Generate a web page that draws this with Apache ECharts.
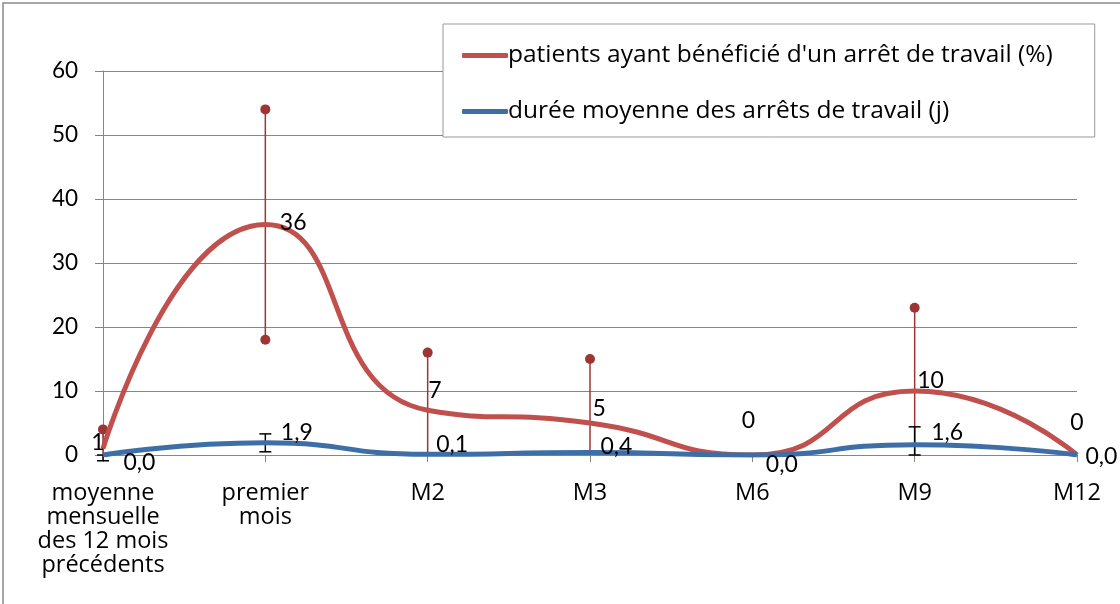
<!DOCTYPE html>
<html>
<head>
<meta charset="utf-8">
<script src="https://cdn.jsdelivr.net/npm/echarts@6/dist/echarts.min.js"></script>
<style>
  html, body { margin: 0; padding: 0; background: #fff; }
  #chart { width: 1120px; height: 604px; }
</style>
</head>
<body>
<div id="chart"></div>
<script>
// données
const categories = ['moyenne\nmensuelle\ndes 12 mois\nprécédents', 'premier\nmois', 'M2', 'M3', 'M6', 'M9', 'M12'];
const patientsPct = [1, 36, 7, 5, 0, 10, 0];
const dureeMoyenne = [0.0, 1.9, 0.1, 0.4, 0.0, 1.6, 0.0];
// barres d'erreur (bas / haut), null = pas de barre
const patientsLow = [0, 18, 0, 0, null, 0, null];
const patientsHigh = [4, 54, 16, 15, null, 23, null];
const dureeLow = [-0.9, 0.5, null, 0.4, null, 0, null];
const dureeHigh = [0, 3.3, null, 0.4, null, 4.4, null];
const yTicks = [0, 10, 20, 30, 40, 50, 60];

const nomPatients = "patients ayant bénéficié d'un arrêt de travail (%)";
const nomDuree = 'durée moyenne des arrêts de travail (j)';

const FONT = 'Lato';
const WORD_FONT = 'Open Sans';
const RED = '#C0504D';
const BLUE = '#3E6EA6';
const ERR_RED = '#9E3533';

const fmt = v => v.toFixed(1).replace('.', ',');

// positions des étiquettes, à la main comme dans Excel
const redLabelPos = ['left', 'right', 'right', 'right', 'top', 'right', 'top'];
const redLabelOff = [[6, -6], [10, -2], [-4, -20], [-2, -14], [-4, -18], [-2, -10], [0, -16]];
const blueLabelOff = [[12, 8], [7, -10], [0, -10], [2, -6], [5, 10], [8, -12], [0, 2]];

const chart = echarts.init(document.getElementById('chart'), null, { renderer: 'canvas' });

function errBars(lows, highs, color, withDots) {
  return {
    type: 'custom',
    silent: true,
    clip: false,
    z: 1,
    data: lows.map((l, i) => [i, l, highs[i]]).filter(d => d[1] !== null),
    renderItem: (params, api) => {
      const x = api.value(0);
      const lo = api.coord([x, api.value(1)]);
      const hi = api.coord([x, api.value(2)]);
      const children = [{
        type: 'line',
        shape: { x1: lo[0], y1: lo[1], x2: hi[0], y2: hi[1] },
        style: { stroke: color, lineWidth: 1.5 }
      }];
      if (withDots) {
        children.push({ type: 'circle', shape: { cx: hi[0], cy: hi[1], r: 5 }, style: { fill: color } });
        if (api.value(1) > 0) {
          children.push({ type: 'circle', shape: { cx: lo[0], cy: lo[1], r: 5 }, style: { fill: color } });
        }
      } else {
        [lo, hi].forEach(p => children.push({
          type: 'line',
          shape: { x1: p[0] - 6, y1: p[1], x2: p[0] + 6, y2: p[1] },
          style: { stroke: color, lineWidth: 1.5 }
        }));
      }
      return { type: 'group', children };
    }
  };
}

const option = {
  backgroundColor: '#fff',
  animation: false,
  textStyle: { fontFamily: FONT, color: '#000' },
  graphic: [{
    type: 'rect',
    shape: { x: 3, y: 3, width: 1200, height: 700 },
    style: { fill: 'none', stroke: '#898989', lineWidth: 1.5 },
    z: -10
  }],
  grid: { left: 103, right: 43, top: 71, bottom: 149, containLabel: false },
  legend: {
    orient: 'vertical',
    left: 443,
    top: 24,
    padding: [19, 42, 13, 19],
    itemGap: 31,
    itemWidth: 46,
    itemHeight: 5,
    backgroundColor: '#fff',
    borderColor: '#999',
    borderWidth: 1,
    borderRadius: 0,
    textStyle: { fontFamily: WORD_FONT, fontSize: 24.5, color: '#000', lineHeight: 24, padding: [0, 0, 0, -5] },
    data: [
      { name: nomPatients, icon: 'roundRect' },
      { name: nomDuree, icon: 'roundRect' }
    ]
  },
  xAxis: {
    type: 'category',
    data: categories,
    boundaryGap: false,
    axisLine: { lineStyle: { color: '#868686', width: 1 } },
    axisTick: { show: true, length: 7, lineStyle: { color: '#868686' } },
    axisLabel: { fontFamily: WORD_FONT, fontSize: 23.5, color: '#000', lineHeight: 24, margin: 26, interval: 0 },
    z: 0
  },
  yAxis: {
    type: 'value',
    min: 0,
    max: 60,
    interval: 10,
    axisLine: { show: true, lineStyle: { color: '#868686', width: 1 } },
    axisTick: { show: true, length: 8, lineStyle: { color: '#868686' } },
    splitLine: { lineStyle: { color: '#868686', width: 1 } },
    axisLabel: {
      fontFamily: FONT, fontSize: 22.5, color: '#000', margin: 25,
      formatter: v => yTicks.includes(v) ? String(v) : ''
    }
  },
  series: [
    errBars(patientsLow, patientsHigh, ERR_RED, true),
    errBars(dureeLow, dureeHigh, '#000', false),
    {
      name: nomPatients,
      type: 'line',
      smooth: 0.55,
      z: 3,
      data: patientsPct.map((v, i) => ({
        value: v,
        label: { position: redLabelPos[i], offset: redLabelOff[i] }
      })),
      symbol: 'circle',
      symbolSize: 1,
      showSymbol: true,
      lineStyle: { color: RED, width: 5 },
      itemStyle: { color: RED },
      label: { show: true, fontFamily: FONT, fontSize: 23, color: '#000', distance: 4 }
    },
    {
      name: nomDuree,
      type: 'line',
      smooth: 0.55,
      z: 4,
      data: dureeMoyenne.map((v, i) => ({
        value: v,
        label: { offset: blueLabelOff[i] }
      })),
      symbol: 'circle',
      symbolSize: 1,
      showSymbol: true,
      lineStyle: { color: BLUE, width: 5 },
      itemStyle: { color: BLUE },
      label: {
        show: true, position: 'right', distance: 8,
        fontFamily: FONT, fontSize: 23, color: '#000',
        formatter: p => fmt(p.value)
      }
    }
  ]
};

chart.setOption(option);
</script>
</body>
</html>
